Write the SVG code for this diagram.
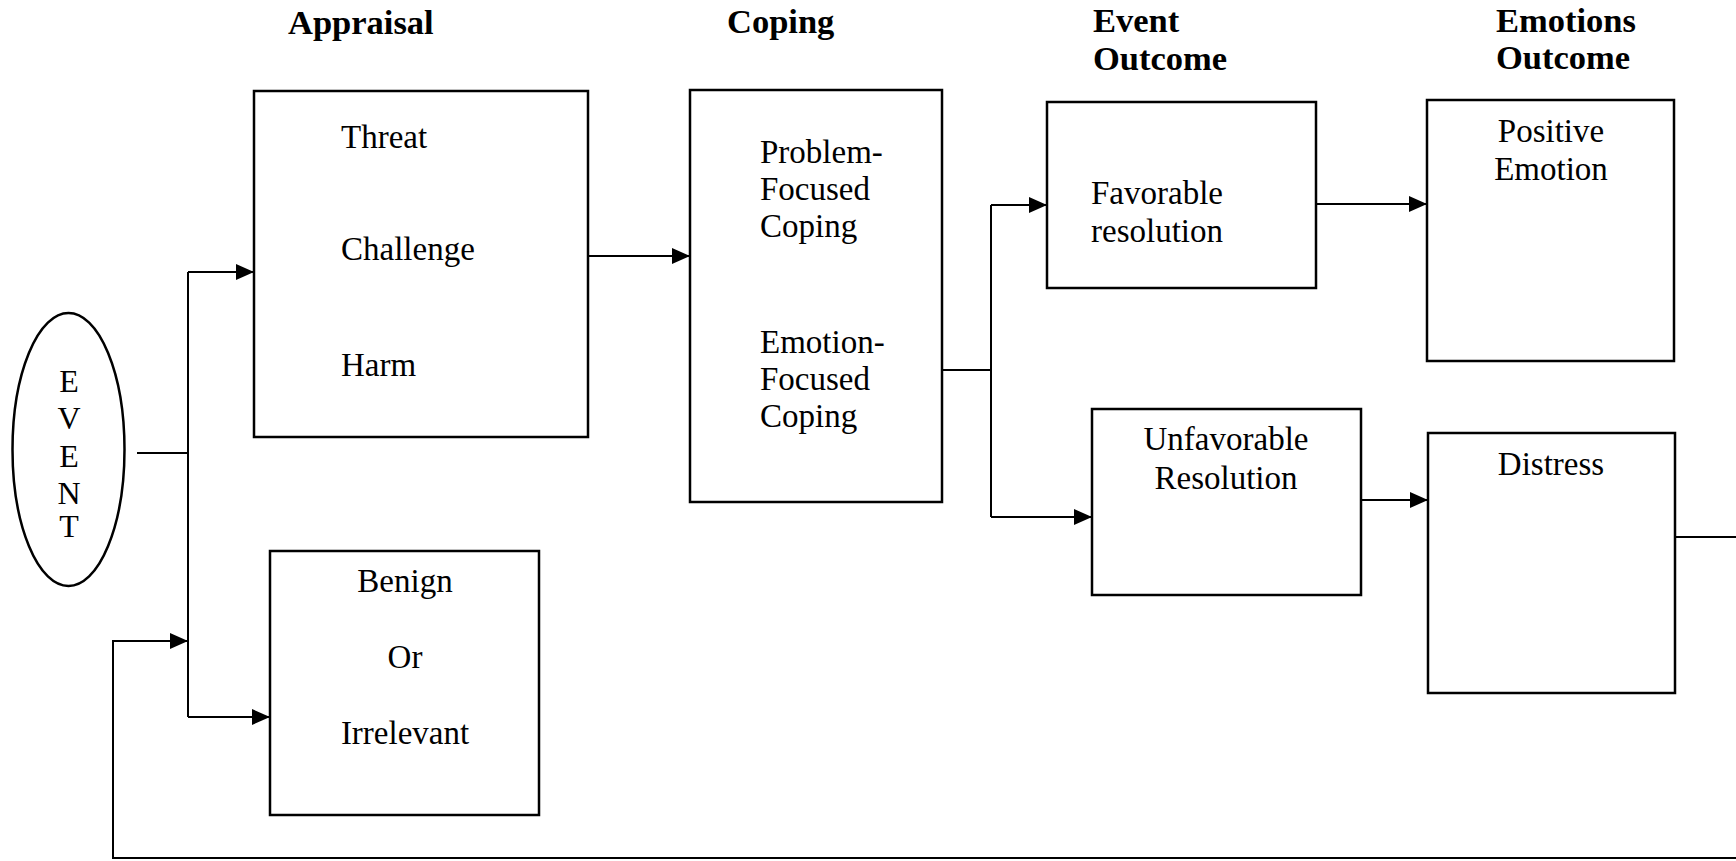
<svg xmlns="http://www.w3.org/2000/svg" width="1736" height="861" viewBox="0 0 1736 861">
<defs>
<marker id="arr" markerUnits="userSpaceOnUse" markerWidth="18" markerHeight="16" refX="18" refY="8" orient="auto">
<path d="M0,0 L18,8 L0,16 z" fill="#000"/>
</marker>
<style>
.box{fill:#fff;stroke:#000;stroke-width:2.5}
.t{font-family:"Liberation Serif","Times New Roman",serif;font-size:33px;fill:#000}
.c{text-anchor:middle}
.ev{font-size:32px}
.h{font-family:"Liberation Serif","Times New Roman",serif;font-size:34.5px;font-weight:bold;fill:#000}
.ln{fill:none;stroke:#000;stroke-width:2}
.ar{fill:none;stroke:#000;stroke-width:2;marker-end:url(#arr)}
</style>
</defs>
<rect width="1736" height="861" fill="#fff"/>
<g id="headers">
<text class="h" x="288" y="34">Appraisal</text>
<text class="h" x="727" y="33">Coping</text>
<text class="h" x="1093" y="32">Event</text>
<text class="h" x="1093" y="70">Outcome</text>
<text class="h" x="1496" y="32">Emotions</text>
<text class="h" x="1496" y="69">Outcome</text>
</g>
<g id="connectors">
<path class="ln" d="M137,453 H188"/>
<path class="ln" d="M188,272 V717"/>
<path class="ar" d="M188,272 H254"/>
<path class="ar" d="M188,717 H270"/>
<path class="ar" d="M1674,537 H1745 V858 H113 V641 H188"/>
<path class="ar" d="M588,256 H690"/>
<path class="ln" d="M942,370 H991"/>
<path class="ln" d="M991,205 V517"/>
<path class="ar" d="M991,205 H1047"/>
<path class="ar" d="M991,517 H1092"/>
<path class="ar" d="M1310,204 H1427"/>
<path class="ar" d="M1361,500 H1428"/>
</g>
<g id="event">
<ellipse cx="68.5" cy="449.5" rx="56" ry="136.5" fill="#fff" stroke="#000" stroke-width="2.5"/>
<text class="t c ev" x="69" y="392">E</text>
<text class="t c ev" x="69" y="429">V</text>
<text class="t c ev" x="69" y="467">E</text>
<text class="t c ev" x="69" y="504">N</text>
<text class="t c ev" x="69" y="537">T</text>
</g>
<g id="appraisal">
<rect class="box" x="254" y="91" width="334" height="346"/>
<text class="t" x="341" y="148">Threat</text>
<text class="t" x="341" y="260">Challenge</text>
<text class="t" x="341" y="376">Harm</text>
</g>
<g id="benign">
<rect class="box" x="270" y="551" width="269" height="264"/>
<text class="t c" x="405" y="592">Benign</text>
<text class="t c" x="405" y="668">Or</text>
<text class="t c" x="405" y="744">Irrelevant</text>
</g>
<g id="coping">
<rect class="box" x="690" y="90" width="252" height="412"/>
<text class="t" x="760" y="163">Problem-</text>
<text class="t" x="760" y="200">Focused</text>
<text class="t" x="760" y="237">Coping</text>
<text class="t" x="760" y="353">Emotion-</text>
<text class="t" x="760" y="390">Focused</text>
<text class="t" x="760" y="427">Coping</text>
</g>
<g id="favorable">
<rect class="box" x="1047" y="102" width="269" height="186"/>
<text class="t" x="1091" y="204">Favorable</text>
<text class="t" x="1091" y="242">resolution</text>
</g>
<g id="unfavorable">
<rect class="box" x="1092" y="409" width="269" height="186"/>
<text class="t c" x="1226" y="450">Unfavorable</text>
<text class="t c" x="1226" y="489">Resolution</text>
</g>
<g id="positive">
<rect class="box" x="1427" y="100" width="247" height="261"/>
<text class="t c" x="1551" y="142">Positive</text>
<text class="t c" x="1551" y="180">Emotion</text>
</g>
<g id="distress">
<rect class="box" x="1428" y="433" width="247" height="260"/>
<text class="t c" x="1551" y="475">Distress</text>
</g>
</svg>
